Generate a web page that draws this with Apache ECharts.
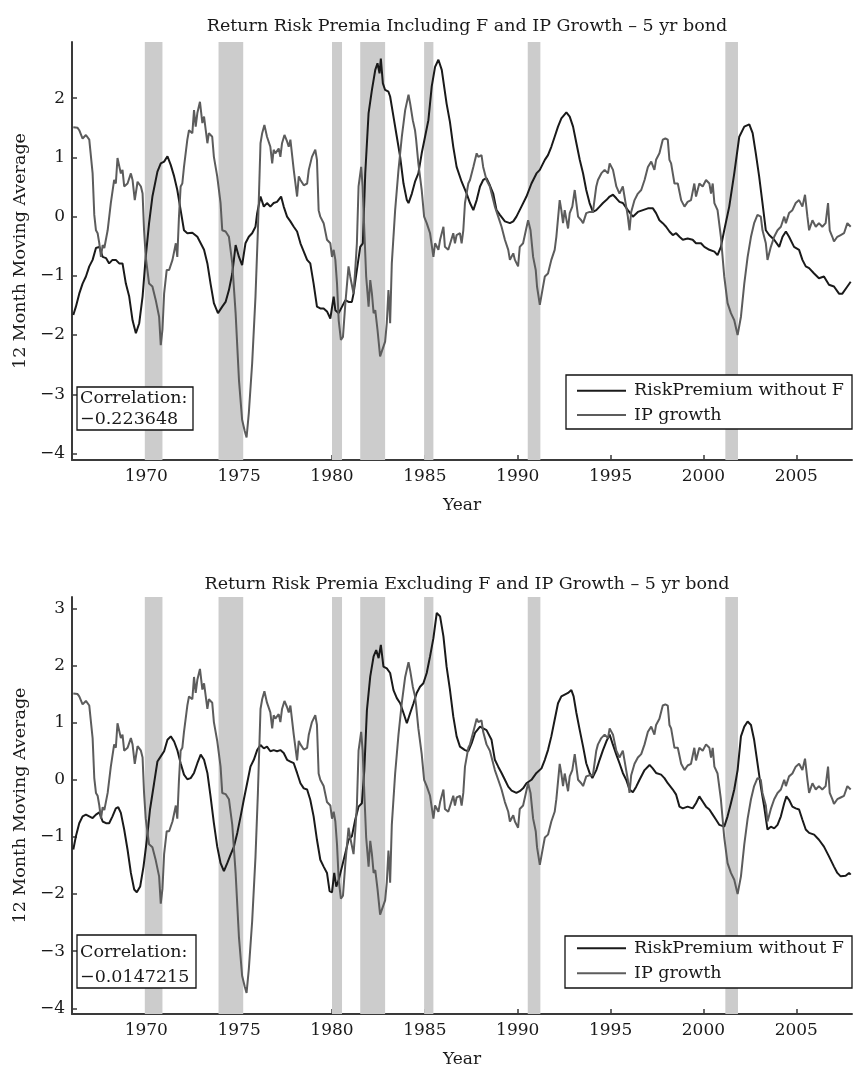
<!DOCTYPE html>
<html><head><meta charset="utf-8">
<script src="https://cdn.jsdelivr.net/npm/echarts@6/dist/echarts.min.js"></script>
<style>html,body{margin:0;padding:0;background:#fff}#c{width:860px;height:1071px}</style>
</head><body><div id="c"></div>
<script>
// ---- data ----
const ipGrowth = [[1966.07,1.51],[1966.30,1.50],[1966.39,1.46],[1966.57,1.32],[1966.75,1.38],[1966.93,1.30],[1967.11,0.73],[1967.20,0.03],[1967.29,-0.23],[1967.38,-0.28],[1967.47,-0.45],[1967.56,-0.68],[1967.65,-0.48],[1967.74,-0.53],[1967.92,-0.23],[1968.09,0.23],[1968.27,0.62],[1968.36,0.56],[1968.45,0.99],[1968.54,1.01],[1968.63,0.73],[1968.72,0.79],[1968.81,0.51],[1968.99,0.56],[1969.17,0.73],[1969.26,0.62],[1969.38,0.28],[1969.53,0.59],[1969.71,0.51],[1969.80,0.39],[1969.88,-0.23],[1969.97,-0.68],[1970.15,-1.13],[1970.33,-1.18],[1970.51,-1.41],[1970.69,-1.69],[1970.78,-2.17],[1970.87,-1.91],[1970.96,-1.30],[1971.10,-0.90],[1971.23,-0.90],[1971.41,-0.73],[1971.59,-0.45],[1971.67,-0.68],[1971.76,0.00],[1971.85,0.51],[1971.94,0.56],[1972.03,0.84],[1972.21,1.30],[1972.30,1.46],[1972.48,1.41],[1972.57,1.80],[1972.66,1.52],[1972.75,1.75],[1972.89,1.94],[1973.02,1.58],[1973.11,1.69],[1973.29,1.24],[1973.37,1.41],[1973.55,1.35],[1973.64,1.01],[1973.82,0.68],[1974.00,0.23],[1974.09,-0.23],[1974.27,-0.25],[1974.45,-0.34],[1974.63,-0.79],[1974.81,-1.63],[1974.99,-2.76],[1975.16,-3.43],[1975.30,-3.62],[1975.40,-3.73],[1975.52,-3.32],[1975.70,-2.48],[1975.88,-1.35],[1976.01,-0.23],[1976.15,1.24],[1976.24,1.41],[1976.36,1.55],[1976.50,1.35],[1976.68,1.18],[1976.78,0.90],[1976.86,1.13],[1976.95,1.07],[1977.13,1.15],[1977.22,1.01],[1977.31,1.24],[1977.44,1.38],[1977.58,1.27],[1977.67,1.18],[1977.76,1.30],[1977.94,0.79],[1978.12,0.34],[1978.21,0.68],[1978.30,0.62],[1978.48,0.53],[1978.66,0.56],[1978.75,0.79],[1978.83,0.79],[1978.92,1.01],[1979.01,1.01],[1979.10,1.13],[1979.19,0.96],[1979.28,0.11],[1979.37,0.00],[1979.55,-0.11],[1979.73,-0.39],[1979.91,-0.45],[1980.00,-0.68],[1980.09,-0.56],[1980.18,-0.73],[1980.27,-1.13],[1980.36,-1.75],[1980.48,-2.08],[1980.59,-2.03],[1980.72,-1.46],[1980.89,-0.84],[1980.98,-1.01],[1981.16,-1.30],[1981.25,-0.90],[1981.34,-0.45],[1981.43,0.51],[1981.57,0.84],[1981.65,0.51],[1981.74,-0.23],[1981.84,-1.01],[1981.97,-1.52],[1982.06,-1.07],[1982.15,-1.30],[1982.24,-1.63],[1982.33,-1.58],[1982.45,-1.91],[1982.59,-2.36],[1982.68,-2.39],[1982.86,-2.11],[1982.95,-1.80],[1983.04,-1.24],[1983.10,-1.58],[1983.13,-1.80],[1983.22,-0.79],[1983.40,0.11],[1983.58,0.79],[1983.76,1.35],[1983.94,1.80],[1984.12,2.06],[1984.21,1.91],[1984.35,1.63],[1984.47,1.46],[1984.53,1.30],[1984.65,0.90],[1984.83,0.45],[1984.96,0.00],[1985.10,-0.11],[1985.28,-0.28],[1985.46,-0.68],[1985.55,-0.45],[1985.73,-0.56],[1985.82,-0.39],[1985.91,-0.28],[1986.00,-0.17],[1986.08,-0.51],[1986.26,-0.56],[1986.53,-0.28],[1986.62,-0.45],[1986.71,-0.31],[1986.89,-0.28],[1986.98,-0.45],[1987.07,-0.23],[1987.16,0.23],[1987.34,0.56],[1987.43,0.62],[1987.61,0.84],[1987.79,1.07],[1987.88,1.01],[1988.05,1.04],[1988.14,0.84],[1988.32,0.62],[1988.50,0.51],[1988.77,0.17],[1988.95,0.00],[1989.13,-0.17],[1989.31,-0.39],[1989.49,-0.56],[1989.58,-0.73],[1989.76,-0.62],[1989.85,-0.73],[1990.02,-0.84],[1990.11,-0.51],[1990.29,-0.45],[1990.44,-0.23],[1990.56,-0.06],[1990.69,-0.23],[1990.83,-0.68],[1990.97,-0.90],[1991.04,-1.18],[1991.19,-1.49],[1991.33,-1.24],[1991.46,-1.01],[1991.63,-0.96],[1991.81,-0.73],[1991.99,-0.56],[1992.08,-0.34],[1992.26,0.28],[1992.35,0.11],[1992.44,-0.11],[1992.53,0.11],[1992.71,-0.20],[1992.80,0.06],[1992.94,0.17],[1993.07,0.45],[1993.25,0.00],[1993.42,-0.06],[1993.52,-0.11],[1993.69,0.06],[1993.87,0.08],[1994.05,0.08],[1994.23,0.51],[1994.32,0.62],[1994.50,0.73],[1994.68,0.79],[1994.86,0.73],[1994.95,0.90],[1995.04,0.90],[1995.13,0.79],[1995.31,0.51],[1995.48,0.39],[1995.66,0.51],[1995.84,0.17],[1995.93,0.00],[1996.02,-0.23],[1996.11,0.08],[1996.29,0.28],[1996.47,0.39],[1996.65,0.45],[1996.83,0.62],[1997.01,0.84],[1997.19,0.93],[1997.36,0.79],[1997.45,0.96],[1997.63,1.07],[1997.81,1.30],[1997.95,1.32],[1998.08,1.30],[1998.17,0.96],[1998.26,0.90],[1998.44,0.56],[1998.62,0.56],[1998.80,0.28],[1998.98,0.17],[1999.15,0.25],[1999.33,0.28],[1999.51,0.56],[1999.60,0.34],[1999.78,0.56],[1999.96,0.51],[2000.14,0.62],[2000.32,0.56],[2000.41,0.39],[2000.50,0.56],[2000.59,0.23],[2000.76,0.11],[2000.94,-0.34],[2001.12,-1.01],[2001.30,-1.46],[2001.48,-1.63],[2001.66,-1.75],[2001.84,-2.00],[2002.02,-1.69],[2002.20,-1.13],[2002.38,-0.68],[2002.56,-0.34],[2002.73,-0.11],[2002.91,0.03],[2003.09,0.00],[2003.18,-0.23],[2003.36,-0.45],[2003.45,-0.73],[2003.63,-0.51],[2003.81,-0.34],[2003.99,-0.23],[2004.17,-0.17],[2004.35,0.00],[2004.44,-0.11],[2004.61,0.06],[2004.79,0.11],[2004.97,0.23],[2005.15,0.28],[2005.33,0.17],[2005.47,0.37],[2005.60,0.00],[2005.69,-0.23],[2005.87,-0.06],[2006.05,-0.17],[2006.22,-0.11],[2006.40,-0.17],[2006.58,-0.11],[2006.71,0.23],[2006.80,-0.23],[2006.94,-0.34],[2007.03,-0.42],[2007.21,-0.34],[2007.39,-0.31],[2007.57,-0.28],[2007.75,-0.11],[2007.93,-0.17]];

const rpIncluding = [[1966.07,-1.66],[1966.21,-1.52],[1966.39,-1.30],[1966.57,-1.13],[1966.75,-1.01],[1966.93,-0.84],[1967.11,-0.73],[1967.29,-0.53],[1967.47,-0.51],[1967.65,-0.68],[1967.83,-0.70],[1968.00,-0.79],[1968.18,-0.73],[1968.36,-0.73],[1968.54,-0.79],[1968.72,-0.79],[1968.90,-1.13],[1969.08,-1.35],[1969.26,-1.75],[1969.44,-1.97],[1969.62,-1.80],[1969.80,-1.35],[1969.97,-0.68],[1970.15,-0.11],[1970.33,0.34],[1970.60,0.76],[1970.78,0.90],[1970.96,0.93],[1971.14,1.02],[1971.32,0.87],[1971.50,0.68],[1971.67,0.45],[1971.85,0.11],[1972.03,-0.23],[1972.21,-0.28],[1972.48,-0.27],[1972.75,-0.34],[1972.93,-0.45],[1973.11,-0.56],[1973.29,-0.79],[1973.46,-1.13],[1973.64,-1.46],[1973.86,-1.63],[1974.09,-1.52],[1974.27,-1.44],[1974.45,-1.24],[1974.63,-0.96],[1974.81,-0.48],[1974.99,-0.68],[1975.16,-0.82],[1975.34,-0.45],[1975.52,-0.34],[1975.70,-0.28],[1975.88,-0.17],[1975.97,0.06],[1976.15,0.34],[1976.33,0.17],[1976.50,0.23],[1976.68,0.17],[1976.86,0.23],[1977.04,0.25],[1977.26,0.34],[1977.40,0.17],[1977.58,0.00],[1977.76,-0.08],[1977.94,-0.17],[1978.12,-0.25],[1978.30,-0.45],[1978.48,-0.59],[1978.66,-0.73],[1978.83,-0.79],[1979.01,-1.13],[1979.19,-1.52],[1979.37,-1.55],[1979.55,-1.55],[1979.73,-1.60],[1979.91,-1.72],[1980.09,-1.35],[1980.18,-1.58],[1980.36,-1.63],[1980.54,-1.52],[1980.72,-1.41],[1980.89,-1.44],[1981.07,-1.44],[1981.16,-1.30],[1981.34,-0.90],[1981.52,-0.51],[1981.66,-0.45],[1981.79,0.73],[1981.97,1.75],[1982.15,2.14],[1982.33,2.48],[1982.45,2.59],[1982.56,2.42],[1982.63,2.67],[1982.74,2.25],[1982.86,2.14],[1983.04,2.11],[1983.13,2.03],[1983.31,1.69],[1983.49,1.35],[1983.67,1.01],[1983.85,0.56],[1984.03,0.28],[1984.12,0.23],[1984.30,0.39],[1984.47,0.59],[1984.65,0.73],[1984.83,1.07],[1985.01,1.35],[1985.19,1.63],[1985.37,2.20],[1985.55,2.53],[1985.73,2.65],[1985.91,2.48],[1986.17,1.91],[1986.35,1.60],[1986.53,1.18],[1986.71,0.84],[1986.98,0.59],[1987.25,0.39],[1987.43,0.23],[1987.61,0.11],[1987.79,0.28],[1987.97,0.51],[1988.14,0.62],[1988.32,0.65],[1988.50,0.53],[1988.68,0.39],[1988.86,0.11],[1989.04,0.03],[1989.31,-0.08],[1989.58,-0.11],[1989.76,-0.08],[1989.93,0.00],[1990.20,0.17],[1990.47,0.34],[1990.74,0.56],[1991.01,0.73],[1991.19,0.79],[1991.46,0.96],[1991.63,1.04],[1991.81,1.18],[1991.99,1.35],[1992.17,1.52],[1992.35,1.66],[1992.62,1.76],[1992.80,1.69],[1992.98,1.52],[1993.16,1.24],[1993.34,0.96],[1993.52,0.73],[1993.69,0.45],[1993.87,0.23],[1994.05,0.08],[1994.23,0.11],[1994.41,0.17],[1994.59,0.23],[1994.77,0.28],[1994.95,0.34],[1995.13,0.37],[1995.31,0.31],[1995.48,0.25],[1995.66,0.23],[1995.93,0.11],[1996.20,0.00],[1996.47,0.08],[1996.74,0.11],[1997.01,0.14],[1997.28,0.14],[1997.45,0.06],[1997.63,-0.06],[1997.81,-0.11],[1997.99,-0.17],[1998.17,-0.25],[1998.35,-0.31],[1998.53,-0.28],[1998.71,-0.34],[1998.89,-0.39],[1999.15,-0.37],[1999.42,-0.39],[1999.60,-0.45],[1999.87,-0.45],[2000.05,-0.51],[2000.32,-0.56],[2000.59,-0.59],[2000.76,-0.65],[2000.94,-0.51],[2001.12,-0.23],[2001.39,0.17],[2001.66,0.73],[2001.93,1.35],[2002.20,1.52],[2002.47,1.56],[2002.65,1.41],[2002.82,1.07],[2003.00,0.68],[2003.18,0.23],[2003.36,-0.23],[2003.54,-0.31],[2003.81,-0.39],[2004.08,-0.51],[2004.26,-0.34],[2004.44,-0.25],[2004.61,-0.34],[2004.88,-0.51],[2005.15,-0.56],[2005.33,-0.73],[2005.51,-0.84],[2005.69,-0.87],[2005.96,-0.96],[2006.22,-1.04],[2006.49,-1.01],[2006.76,-1.15],[2007.03,-1.18],[2007.30,-1.30],[2007.48,-1.30],[2007.75,-1.18],[2007.93,-1.10]];

const rpExcluding = [[1966.07,-1.22],[1966.21,-0.99],[1966.39,-0.76],[1966.57,-0.64],[1966.75,-0.61],[1966.93,-0.64],[1967.11,-0.67],[1967.29,-0.61],[1967.47,-0.57],[1967.65,-0.73],[1967.83,-0.76],[1968.00,-0.76],[1968.18,-0.64],[1968.36,-0.50],[1968.49,-0.48],[1968.63,-0.58],[1968.81,-0.87],[1968.99,-1.22],[1969.17,-1.63],[1969.35,-1.92],[1969.49,-1.97],[1969.67,-1.87],[1969.85,-1.52],[1970.03,-1.05],[1970.20,-0.52],[1970.42,-0.06],[1970.60,0.32],[1970.78,0.41],[1970.96,0.50],[1971.14,0.70],[1971.32,0.76],[1971.50,0.67],[1971.67,0.52],[1971.85,0.29],[1972.03,0.09],[1972.21,0.01],[1972.39,0.03],[1972.57,0.12],[1972.75,0.29],[1972.93,0.44],[1973.11,0.35],[1973.29,0.12],[1973.46,-0.29],[1973.64,-0.76],[1973.82,-1.17],[1974.00,-1.46],[1974.18,-1.60],[1974.36,-1.46],[1974.54,-1.31],[1974.72,-1.17],[1974.90,-0.93],[1975.08,-0.64],[1975.25,-0.35],[1975.43,-0.06],[1975.61,0.23],[1975.79,0.35],[1975.97,0.52],[1976.15,0.61],[1976.33,0.55],[1976.50,0.58],[1976.68,0.50],[1976.86,0.52],[1977.04,0.50],[1977.22,0.52],[1977.40,0.47],[1977.58,0.35],[1977.76,0.32],[1977.94,0.29],[1978.12,0.12],[1978.30,-0.06],[1978.48,-0.15],[1978.66,-0.17],[1978.83,-0.35],[1979.01,-0.64],[1979.19,-1.05],[1979.37,-1.40],[1979.55,-1.52],[1979.73,-1.63],[1979.87,-1.95],[1980.00,-1.97],[1980.12,-1.63],[1980.23,-1.87],[1980.36,-1.75],[1980.54,-1.52],[1980.72,-1.28],[1980.89,-1.05],[1981.07,-0.99],[1981.25,-0.70],[1981.43,-0.47],[1981.61,-0.41],[1981.74,0.17],[1981.88,1.22],[1982.06,1.81],[1982.24,2.16],[1982.38,2.27],[1982.51,2.13],[1982.63,2.36],[1982.77,1.98],[1982.95,1.95],[1983.13,1.87],[1983.31,1.57],[1983.49,1.43],[1983.67,1.34],[1983.85,1.17],[1984.03,0.99],[1984.21,1.17],[1984.39,1.34],[1984.56,1.52],[1984.74,1.63],[1984.92,1.69],[1985.10,1.87],[1985.28,2.16],[1985.46,2.48],[1985.64,2.92],[1985.82,2.86],[1986.00,2.51],[1986.17,1.98],[1986.35,1.58],[1986.53,1.11],[1986.71,0.76],[1986.89,0.58],[1987.16,0.52],[1987.34,0.50],[1987.52,0.64],[1987.70,0.82],[1987.97,0.93],[1988.14,0.90],[1988.32,0.87],[1988.59,0.70],[1988.77,0.35],[1988.95,0.23],[1989.13,0.12],[1989.31,0.00],[1989.49,-0.12],[1989.67,-0.19],[1989.93,-0.23],[1990.11,-0.20],[1990.29,-0.15],[1990.47,-0.06],[1990.74,0.00],[1991.01,0.12],[1991.28,0.20],[1991.46,0.35],[1991.63,0.52],[1991.81,0.76],[1991.99,1.05],[1992.17,1.34],[1992.35,1.46],[1992.53,1.49],[1992.71,1.52],[1992.89,1.57],[1993.01,1.46],[1993.16,1.17],[1993.34,0.87],[1993.52,0.58],[1993.69,0.29],[1993.87,0.12],[1994.02,0.03],[1994.23,0.17],[1994.41,0.35],[1994.59,0.52],[1994.77,0.67],[1994.95,0.79],[1995.13,0.61],[1995.31,0.44],[1995.48,0.29],[1995.66,0.12],[1995.84,0.00],[1996.02,-0.17],[1996.20,-0.22],[1996.38,-0.12],[1996.56,0.00],[1996.83,0.17],[1997.10,0.26],[1997.27,0.20],[1997.45,0.12],[1997.72,0.09],[1997.90,0.03],[1998.08,-0.06],[1998.35,-0.17],[1998.53,-0.26],[1998.71,-0.47],[1998.89,-0.50],[1999.15,-0.47],[1999.42,-0.50],[1999.60,-0.41],[1999.78,-0.29],[1999.96,-0.38],[2000.14,-0.47],[2000.32,-0.52],[2000.50,-0.61],[2000.68,-0.70],[2000.86,-0.79],[2001.12,-0.82],[2001.30,-0.64],[2001.48,-0.41],[2001.66,-0.17],[2001.84,0.17],[2002.02,0.76],[2002.20,0.93],[2002.38,1.02],[2002.56,0.96],[2002.73,0.70],[2002.91,0.29],[2003.09,-0.12],[2003.27,-0.47],[2003.45,-0.87],[2003.63,-0.82],[2003.81,-0.85],[2003.99,-0.79],[2004.17,-0.64],[2004.35,-0.41],[2004.47,-0.29],[2004.61,-0.35],[2004.79,-0.47],[2004.97,-0.50],[2005.15,-0.52],[2005.33,-0.70],[2005.51,-0.87],[2005.69,-0.93],[2005.96,-0.96],[2006.22,-1.05],[2006.49,-1.17],[2006.76,-1.34],[2007.03,-1.52],[2007.21,-1.63],[2007.39,-1.69],[2007.66,-1.68],[2007.84,-1.63],[2007.93,-1.66]];

const recessions = [[1969.92,1970.87],[1973.89,1975.22],[1980.00,1980.54],[1981.52,1982.86],[1984.96,1985.46],[1990.54,1991.22],[2001.18,2001.86]];
const yearTicks = [1970,1975,1980,1985,1990,1995,2000,2005];
const yTicksTop = [-4,-3,-2,-1,0,1,2];
const yTicksBottom = [-4,-3,-2,-1,0,1,2,3];
const titles = ['Return Risk Premia Including F and IP Growth \u2013 5 yr bond','Return Risk Premia Excluding F and IP Growth \u2013 5 yr bond'];
const correlations = ['\u22120.223648','\u22120.0147215'];
const seriesNames = ['RiskPremium without F','IP growth'];

// ---- layout / style ----
const FONT = 'DejaVu Serif';
const TXT = '#1a1a1a';
const AX = '#3a3a3a';
const panels = [
  {top:42, height:418, ymin:-4.11, ymax:2.95, yticks:yTicksTop, rp:rpIncluding, title:titles[0], titleY:12,
   corr:{x:77,y:387,w:116,h:43,ty:[398,419]}, leg:{x:566,y:375,w:286,h:54,top:380.7,gap:4.3}},
  {top:597, height:417, ymin:-4.10, ymax:3.20, yticks:yTicksBottom, rp:rpExcluding, title:titles[1], titleY:570,
   corr:{x:77,y:935,w:119,h:53,ty:[952,977]}, leg:{x:565,y:936,w:287,h:52,top:938.3,gap:5}}
];
const fmtNeg = v => String(v).replace('-', '\u2212');

const chart = echarts.init(document.getElementById('c'), null, {renderer:'canvas'});
const grid=[], xAxis=[], yAxis=[], series=[], title=[], legend=[], graphic=[];
panels.forEach((p,i)=>{
  grid.push({left:72, top:p.top, width:780, height:p.height});
  title.push({text:p.title, left:462, top:p.titleY, textAlign:'center',
    textStyle:{fontFamily:FONT, fontSize:17.5, fontWeight:'normal', color:TXT}});
  xAxis.push({type:'value', gridIndex:i, min:1966, max:2008,
    name:'Year', nameLocation:'middle', nameGap:37,
    nameTextStyle:{fontFamily:FONT, fontSize:17, color:TXT},
    axisLine:{show:true, onZero:false, lineStyle:{color:AX, width:2}},
    axisTick:{show:true, inside:true, length:5, customValues:yearTicks, lineStyle:{color:AX, width:1.5}},
    axisLabel:{customValues:yearTicks, fontFamily:FONT, fontSize:17, color:TXT, margin:8, formatter:v=>String(v)},
    splitLine:{show:false}});
  yAxis.push({type:'value', gridIndex:i, min:p.ymin, max:p.ymax,
    name:'12 Month Moving Average', nameLocation:'middle', nameGap:34,
    nameTextStyle:{fontFamily:FONT, fontSize:17.5, color:TXT},
    axisLine:{show:true, onZero:false, lineStyle:{color:AX, width:2}},
    axisTick:{show:true, inside:true, length:5, customValues:p.yticks, lineStyle:{color:AX, width:1.5}},
    axisLabel:{customValues:p.yticks, fontFamily:FONT, fontSize:17, color:TXT, margin:7, formatter:fmtNeg},
    splitLine:{show:false}});
  series.push({type:'line', xAxisIndex:i, yAxisIndex:i, data:[[1966,0]], showSymbol:false, symbol:'none',
    lineStyle:{width:0, opacity:0}, silent:true, z:1, legendHoverLink:false,
    markArea:{silent:true, itemStyle:{color:'#cccccc', opacity:1}, data:recessions.map(r=>[{xAxis:r[0]},{xAxis:r[1]}])}});
  series.push({name:seriesNames[0], type:'line', xAxisIndex:i, yAxisIndex:i, data:p.rp, showSymbol:false, symbol:'none',
    lineStyle:{color:'#1a1a1a', width:2}, itemStyle:{color:'#1a1a1a'}, z:3});
  series.push({name:seriesNames[1], type:'line', xAxisIndex:i, yAxisIndex:i, data:ipGrowth, showSymbol:false, symbol:'none',
    lineStyle:{color:'#5c5c5c', width:2}, itemStyle:{color:'#5c5c5c'}, z:4});
  legend.push({data:seriesNames, orient:'vertical', left:577, top:p.leg.top, padding:0, itemGap:p.leg.gap,
    icon:'rect', itemWidth:49, itemHeight:2, z:12,
    textStyle:{fontFamily:FONT, fontSize:17.5, color:TXT, lineHeight:20, padding:[0,0,0,3]}});
  graphic.push({type:'rect', z:10, shape:{x:p.leg.x, y:p.leg.y, width:p.leg.w, height:p.leg.h},
    style:{fill:'#fff', stroke:'#111', lineWidth:1.3}});
  graphic.push({type:'rect', z:10, shape:{x:p.corr.x, y:p.corr.y, width:p.corr.w, height:p.corr.h},
    style:{fill:'#fff', stroke:'#111', lineWidth:1.3}});
  graphic.push({type:'text', z:11, x:80, y:p.corr.ty[0], style:{text:'Correlation:', font:'17.5px "'+FONT+'"', fill:TXT, textVerticalAlign:'middle'}});
  graphic.push({type:'text', z:11, x:80, y:p.corr.ty[1], style:{text:correlations[i], font:'17.5px "'+FONT+'"', fill:TXT, textVerticalAlign:'middle'}});
});
chart.setOption({animation:false, backgroundColor:'#fff', title, grid, xAxis, yAxis, series, legend, graphic, tooltip:{show:false}});
</script></body></html>
